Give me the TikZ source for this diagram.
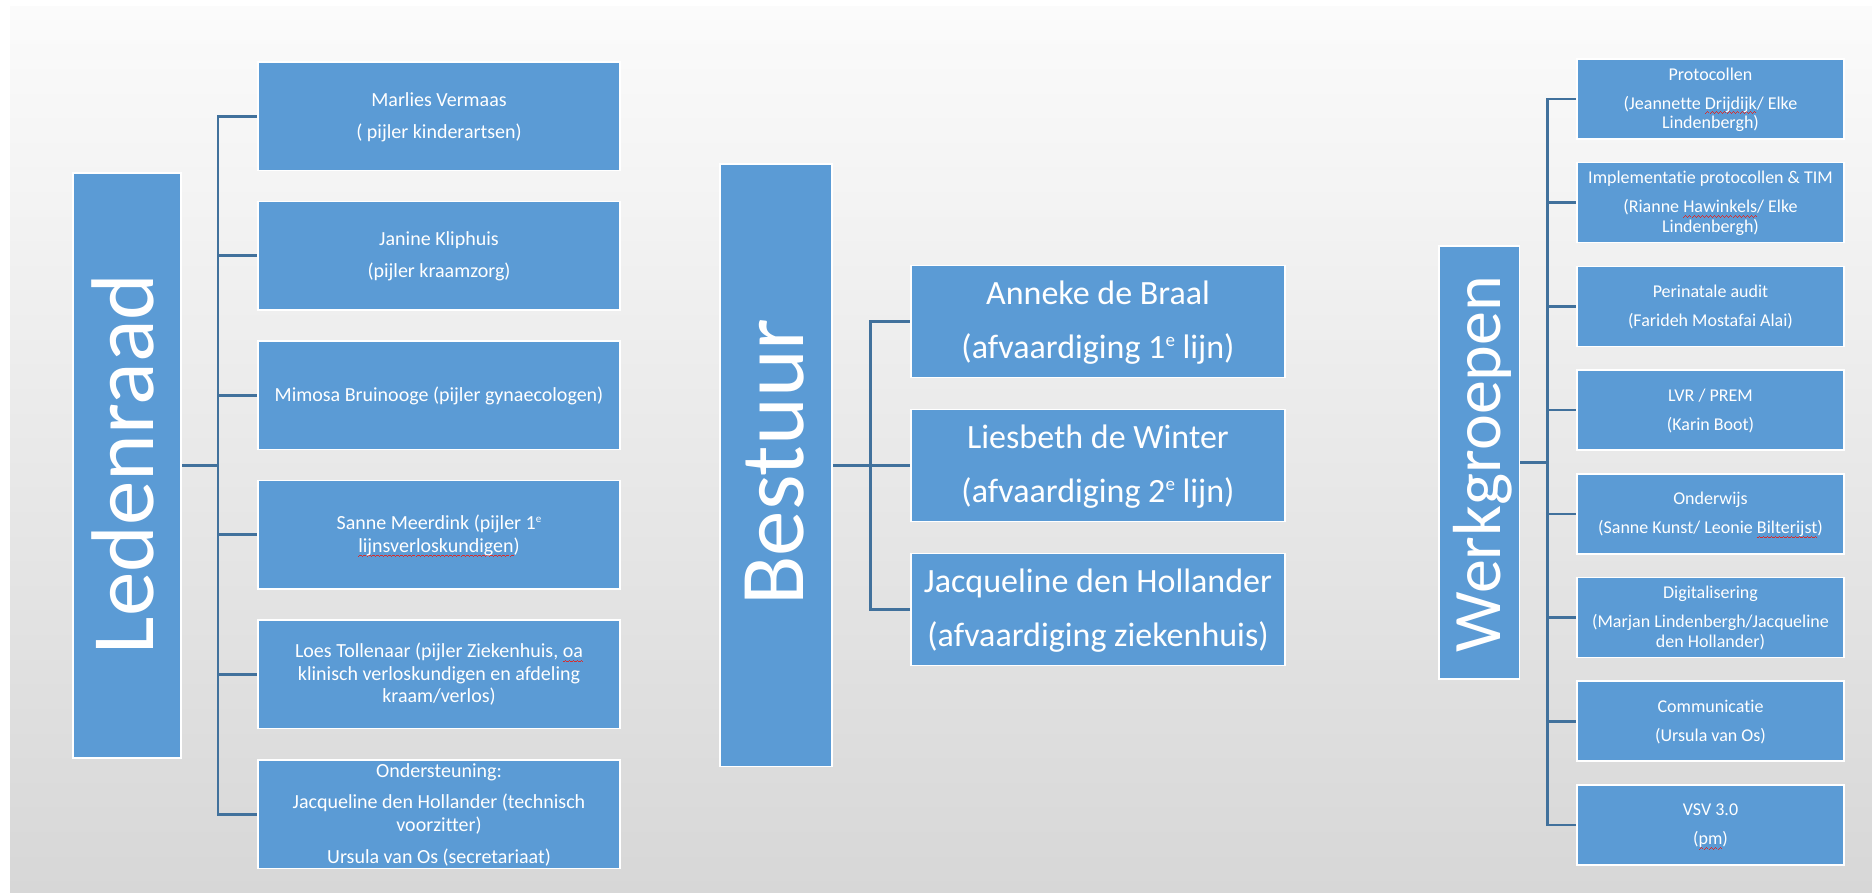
\documentclass[tikz,border=0pt]{standalone}
\usepackage{fontspec}
\setmainfont{Carlito}[Ligatures={NoCommon}]
\definecolor{sqred}{RGB}{215,45,45}
\definecolor{boxblue}{RGB}{91,155,213}
\definecolor{lineblue}{RGB}{65,113,156}
\definecolor{bgtop}{RGB}{251,251,251}
\definecolor{bgmid}{RGB}{242,242,242}
\definecolor{bgbot}{RGB}{215,215,215}
\newsavebox\sqbox
\newcommand\wavecell{\rule[-4.6pt]{1pt}{0.8pt}\rule[-3.9pt]{1pt}{0.8pt}\rule[-3.2pt]{1pt}{0.8pt}\rule[-3.9pt]{1pt}{0.8pt}}
\newcommand\sq[1]{\sbox\sqbox{#1}\rlap{\textcolor{sqred}{\hbox to \wd\sqbox{\xleaders\hbox{\wavecell}\hfill}}}\usebox\sqbox}
\newcommand\ls{\rule[-0.25em]{0pt}{1.1em}}
\newcommand\supsmall{\raisebox{7.3pt}{\fontsize{11}{11}\selectfont e}}
\newcommand\supbig{\raisebox{12.5pt}{\fontsize{19}{19}\selectfont e}}
\pgfdeclarelayer{back}
\pgfdeclarelayer{mid}
\pgfsetlayers{back,mid,main}
\begin{document}
\begin{tikzpicture}[x=1pt,y=-1pt,
  box/.style={rectangle, fill=boxblue, draw=white, line width=1.6pt, inner sep=0pt, outer sep=0pt, anchor=north west},
  ttl/.style={text=white, inner sep=0pt, rotate=90, anchor=base},
  leafL/.style={box, minimum width=362pt, minimum height=108.5pt, text=white, align=center,
    font={\fontsize{20}{22.7}\selectfont\lineskiplimit=-100pt}},
  leafB/.style={box, minimum width=374pt, minimum height=112pt, text=white, align=center,
    font={\fontsize{34}{54}\selectfont\lineskiplimit=-100pt}},
  leafW/.style={box, minimum width=267pt, minimum height=80pt, text=white, align=center,
    font={\fontsize{18}{19.7}\selectfont\lineskiplimit=-100pt}},
  conn/.style={draw=lineblue, line width=2.6pt}]
\useasboundingbox (0,0) rectangle (1872,893);
\begin{pgfonlayer}{back}
\fill[white] (0,0) rectangle (1872,893);
\shade[top color=bgtop, middle color=bgmid, bottom color=bgbot] (10,7) rectangle (1872,893);
\end{pgfonlayer}

% ---------- Ledenraad ----------
\node[box, minimum width=108pt, minimum height=585pt] (L) at (73,173) {};
\node[ttl, font=\fontsize{89}{89}\selectfont] (Lt) at (153,464) {Ledenraad};
\node[leafL] (l1) at (258,62) {\ls Marlies Vermaas\\[9pt]( pijler kinderartsen)\ls};
\node[leafL] (l2) at (258,201.5) {\ls Janine Kliphuis\\[9pt](pijler kraamzorg)\ls};
\node[leafL] (l3) at (258,341) {\ls Mimosa Bruinooge (pijler gynaecologen)\ls};
\node[leafL] (l4) at (258,480.5) {\ls Sanne Meerdink (pijler 1\supsmall\\\sq{lijnsverloskundigen})\ls};
\node[leafL] (l5) at (258,620) {\ls Loes Tollenaar (pijler Ziekenhuis, \sq{oa}\\klinisch verloskundigen en afdeling\\kraam/verlos)\ls};
\node[leafL] (l6) at (258,760) {\ls Ondersteuning:\\[9pt]Jacqueline den Hollander (technisch\\voorzitter)\\[9pt]Ursula van Os (secretariaat)\ls};

% ---------- Bestuur ----------
\node[box, minimum width=112pt, minimum height=602.5pt] (B) at (720,164) {};
\node[ttl, font=\fontsize{91}{91}\selectfont] (Bt) at (803,462) {Bestuur};
\node[leafB] (b1) at (911,265.5) {\ls Anneke de Braal\\(afvaardiging 1\supbig{} lijn)\ls};
\node[leafB] (b2) at (911,409.5) {\ls Liesbeth de Winter\\(afvaardiging 2\supbig{} lijn)\ls};
\node[leafB] (b3) at (911,553.5) {\ls Jacqueline den Hollander\\(afvaardiging ziekenhuis)\ls};

% ---------- Werkgroepen ----------
\node[box, minimum width=80.5pt, minimum height=433pt] (W) at (1439,246) {};
\node[ttl, font=\fontsize{68}{68}\selectfont] (Wt) at (1500,464) {Werkgroepen};
\node[leafW] (w1) at (1577,59) {\ls Protocollen\\[9.3pt](Jeannette \sq{Drijdijk}/ Elke\\Lindenbergh)\ls};
\node[leafW] (w2) at (1577,162.7) {\ls Implementatie protocollen \& TIM\\[9.3pt](Rianne \sq{Hawinkels}/ Elke\\Lindenbergh)\ls};
\node[leafW] (w3) at (1577,266.4) {\ls Perinatale audit\\[9.3pt](Farideh Mostafai Alai)\ls};
\node[leafW] (w4) at (1577,370.1) {\ls LVR / PREM\\[9.3pt](Karin Boot)\ls};
\node[leafW] (w5) at (1577,473.8) {\ls Onderwijs\\[9.3pt](Sanne Kunst/ Leonie \sq{Bilterijst})\ls};
\node[leafW] (w6) at (1577,577.5) {\ls Digitalisering\\[9.3pt](Marjan Lindenbergh/Jacqueline\\den Hollander)\ls};
\node[leafW] (w7) at (1577,681.2) {\ls Communicatie\\[9.3pt](Ursula van Os)\ls};
\node[leafW] (w8) at (1577,784.9) {\ls VSV 3.0\\[9.3pt](\sq{pm})\ls};

% ---------- connectors ----------
\coordinate (Lj) at (218,465.5);
\coordinate (Bj) at (870.5,465.25);
\coordinate (Wj) at (1547.3,462.5);
\begin{pgfonlayer}{mid}
\draw[conn] (L.east) -- (Lj);
\draw[conn] (l1.west) -- (l1.west -| Lj) -- (l6.west -| Lj) -- (l6.west);
\foreach \i in {2,...,5} {\draw[conn] (l\i.west -| Lj) -- (l\i.west);}
\draw[conn] (B.east) -- (Bj);
\draw[conn] (b1.west) -- (b1.west -| Bj) -- (b3.west -| Bj) -- (b3.west);
\draw[conn] (b2.west -| Bj) -- (b2.west);
\draw[conn] (W.east) -- (Wj);
\draw[conn] (w1.west) -- (w1.west -| Wj) -- (w8.west -| Wj) -- (w8.west);
\foreach \i in {2,...,7} {\draw[conn] (w\i.west -| Wj) -- (w\i.west);}
\end{pgfonlayer}
\end{tikzpicture}
\end{document}
